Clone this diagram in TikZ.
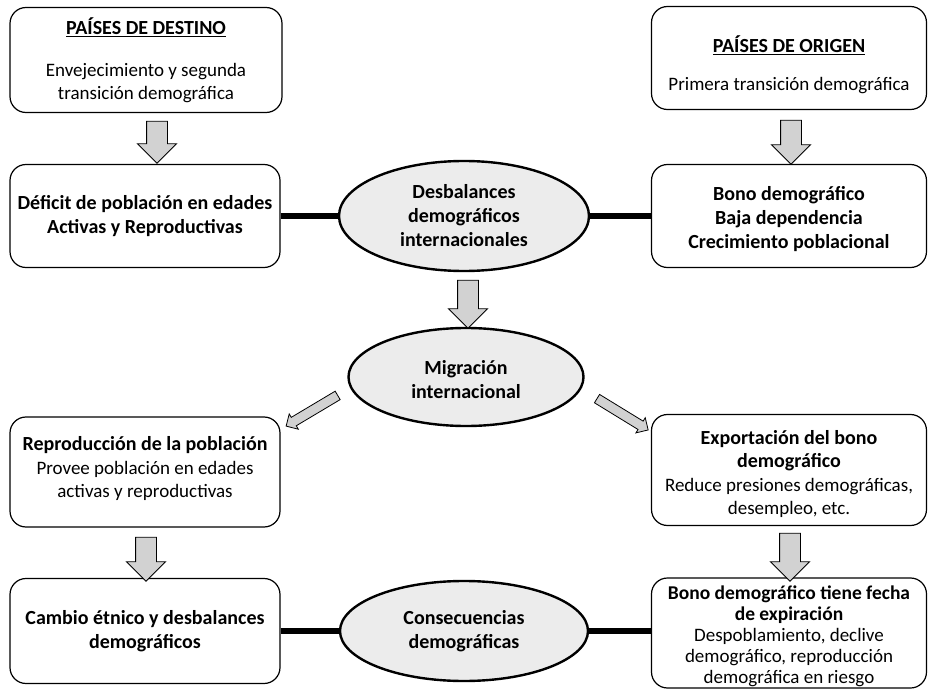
\documentclass[tikz,border=0pt]{standalone}
\usepackage{fontspec}
\setmainfont{Carlito}
\usetikzlibrary{shapes.geometric,shapes.arrows}

\begin{document}
\begin{tikzpicture}[x=1pt,y=-1pt,
  caja/.style={draw, line width=1.2pt, rounded corners=16pt, align=center, inner sep=0pt,
    font=\fontsize{19}{23.5}\selectfont},
  negrita/.style={caja, font=\bfseries\fontsize{20}{24}\selectfont},
  elipse/.style={ellipse, draw, line width=2.4pt, fill=gray!15, align=center, inner sep=0pt,
    font=\bfseries\fontsize{20}{24}\selectfont},
  flecha/.style={single arrow, draw, line width=0.9pt, fill=gray!35, inner sep=10pt,
    single arrow head extend=9pt},
  diagonal/.style={single arrow, draw, line width=0.8pt, fill=gray!35, inner sep=4.5pt,
    single arrow head extend=4pt, minimum height=60pt},
  barra/.style={line width=6pt}]
\useasboundingbox (0,0) rectangle (930,690);
\def\tit{\bfseries\fontsize{20}{24}\selectfont}

\node[caja, minimum width=272, minimum height=105] (destino) at (146,60)
  {\rule{0pt}{18pt}{\tit\underline{PAÍSES DE DESTINO}}\\[18pt]Envejecimiento y segunda\\transición demográfica};
\node[caja, minimum width=275, minimum height=103] (origen) at (789,58)
  {\rule{0pt}{30pt}{\tit\underline{PAÍSES DE ORIGEN}}\\[14pt]Primera transición demográfica};
\node[negrita, minimum width=270, minimum height=103] (deficit) at (145,216)
  {Déficit de población en edades\\Activas y Reproductivas};
\node[negrita, minimum width=275, minimum height=103] (bono) at (789,216)
  {\rule{0pt}{20pt}Bono demográfico\\Baja dependencia\\Crecimiento poblacional};
\node[elipse, minimum width=250, minimum height=110] (desbalances) at (464,216)
  {Desbalances\\demográficos\\internacionales};
\node[elipse, minimum width=235, minimum height=98] (migracion) at (466,377)
  {\rule{0pt}{20pt}Migración\\internacional};
\node[caja, minimum width=270, minimum height=110] (reproduccion) at (145,472)
  {{\tit Reproducción de la población}\\Provee población en edades\\activas y reproductivas\rule[-10pt]{0pt}{10pt}};
\node[caja, minimum width=275, minimum height=111] (exportacion) at (789,470)
  {\rule{0pt}{22pt}{\tit Exportación del bono}\\{\tit demográfico}\\Reduce presiones demográficas,\\desempleo, etc.};
\node[negrita, minimum width=270, minimum height=105] (cambio) at (145,631)
  {Cambio étnico y desbalances\\demográficos};
\node[elipse, minimum width=248, minimum height=100] (consecuencias) at (464,631)
  {Consecuencias\\demográficas};
\node[caja, font=\fontsize{19}{21}\selectfont, minimum width=275, minimum height=110] (expiracion) at (789,633)
  {\rule{0pt}{20pt}{\bfseries\fontsize{19.5}{21}\selectfont Bono demográfico tiene fecha}\\{\bfseries\fontsize{19.5}{21}\selectfont de expiración}\\Despoblamiento, declive\\demográfico, reproducción\\demográfica en riesgo};

\node[flecha, minimum height=42pt, shape border rotate=270] (f1) at (157,137) {};
\node[flecha, minimum height=44pt, shape border rotate=270] (f2) at (791,137) {};
\node[flecha, minimum height=48pt, shape border rotate=270] (f3) at (468,299) {};
\node[flecha, minimum height=44pt, shape border rotate=270] (f4) at (146,554) {};
\node[flecha, minimum height=48pt, shape border rotate=270] (f5) at (790,552) {};
\node[diagonal, rotate=210.8] (d1) at (314,409.5) {};
\node[diagonal, rotate=-31.5] (d2) at (620.5,413) {};

\draw[barra] (deficit.east) -- (desbalances.west);
\draw[barra] (desbalances.east) -- (bono.west);
\draw[barra] (cambio.east) -- (consecuencias.west);
\draw[barra] (consecuencias.east) -- (consecuencias.east -| expiracion.west);
\end{tikzpicture}
\end{document}
